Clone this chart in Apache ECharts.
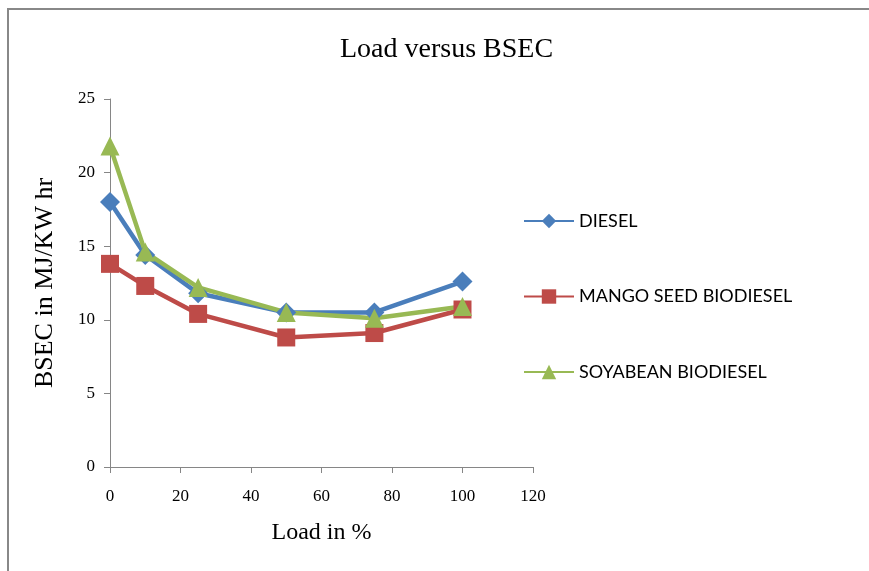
<!DOCTYPE html>
<html>
<head>
<meta charset="utf-8">
<script src="https://cdn.jsdelivr.net/npm/echarts@6/dist/echarts.min.js"></script>
<style>html,body{margin:0;padding:0;background:#fff;}#c{width:869px;height:571px;}</style>
</head>
<body>
<div id="c"></div>
<script>
var loads = [0, 10, 25, 50, 75, 100];
var diesel = [18.0, 14.4, 11.8, 10.5, 10.5, 12.6];
var mango = [13.8, 12.3, 10.4, 8.8, 9.1, 10.7];
var soyabean = [21.8, 14.6, 12.2, 10.5, 10.1, 10.9];
var seriesNames = ['DIESEL', 'MANGO SEED BIODIESEL', 'SOYABEAN BIODIESEL'];

function pairs(arr) { return loads.map(function (x, i) { return [x, arr[i]]; }); }

var chart = echarts.init(document.getElementById('c'));
var axisColor = '#868686';
chart.setOption({
  backgroundColor: '#fff',
  animation: false,
  title: {
    text: 'Load versus BSEC',
    left: 335, top: 31,
    textStyle: { fontFamily: 'Liberation Serif', fontSize: 28, fontWeight: 'normal', color: '#000' }
  },
  graphic: [{
    type: 'rect', shape: { x: 8, y: 9, width: 900, height: 600 },
    style: { fill: 'none', stroke: '#888', lineWidth: 2 }, silent: true
  }],
  legend: {
    orient: 'vertical', left: 518, top: 207, itemGap: 57.5,
    itemWidth: 50, itemHeight: 18,
    data: seriesNames,
    textStyle: { fontFamily: 'Lato', fontSize: 18, color: '#000' }
  },
  grid: { left: 110, top: 99, right: 336, bottom: 104 },
  xAxis: {
    type: 'value', min: 0, max: 120, interval: 20,
    name: 'Load in %', nameLocation: 'middle', nameGap: 54,
    nameTextStyle: { fontFamily: 'Liberation Serif', fontSize: 24, color: '#000' },
    axisLine: { lineStyle: { color: axisColor, width: 1 } },
    axisTick: { show: true, length: 6, lineStyle: { color: axisColor } },
    axisLabel: { fontFamily: 'Liberation Serif', fontSize: 17, color: '#000', margin: 21 },
    splitLine: { show: false }
  },
  yAxis: {
    type: 'value', min: 0, max: 25, interval: 5,
    name: 'BSEC in MJ/KW hr', nameLocation: 'middle', nameGap: 52,
    nameTextStyle: { fontFamily: 'Liberation Serif', fontSize: 26, color: '#000' },
    axisLine: { show: true, lineStyle: { color: axisColor, width: 1 } },
    axisTick: { show: true, length: 6, lineStyle: { color: axisColor } },
    axisLabel: { fontFamily: 'Liberation Serif', fontSize: 17, color: '#000', margin: 15 },
    splitLine: { show: false }
  },
  series: [
    { name: seriesNames[0], type: 'line', data: pairs(diesel), symbol: 'diamond', symbolSize: 20,
      lineStyle: { width: 4.5, color: '#4a7ebb' }, itemStyle: { color: '#4a7ebb' } },
    { name: seriesNames[1], type: 'line', data: pairs(mango), symbol: 'rect', symbolSize: 18,
      lineStyle: { width: 4.5, color: '#be4b48' }, itemStyle: { color: '#be4b48' } },
    { name: seriesNames[2], type: 'line', data: pairs(soyabean), symbol: 'triangle', symbolSize: 19,
      lineStyle: { width: 4.5, color: '#98b954' }, itemStyle: { color: '#98b954' } }
  ]
});
</script>
</body>
</html>
